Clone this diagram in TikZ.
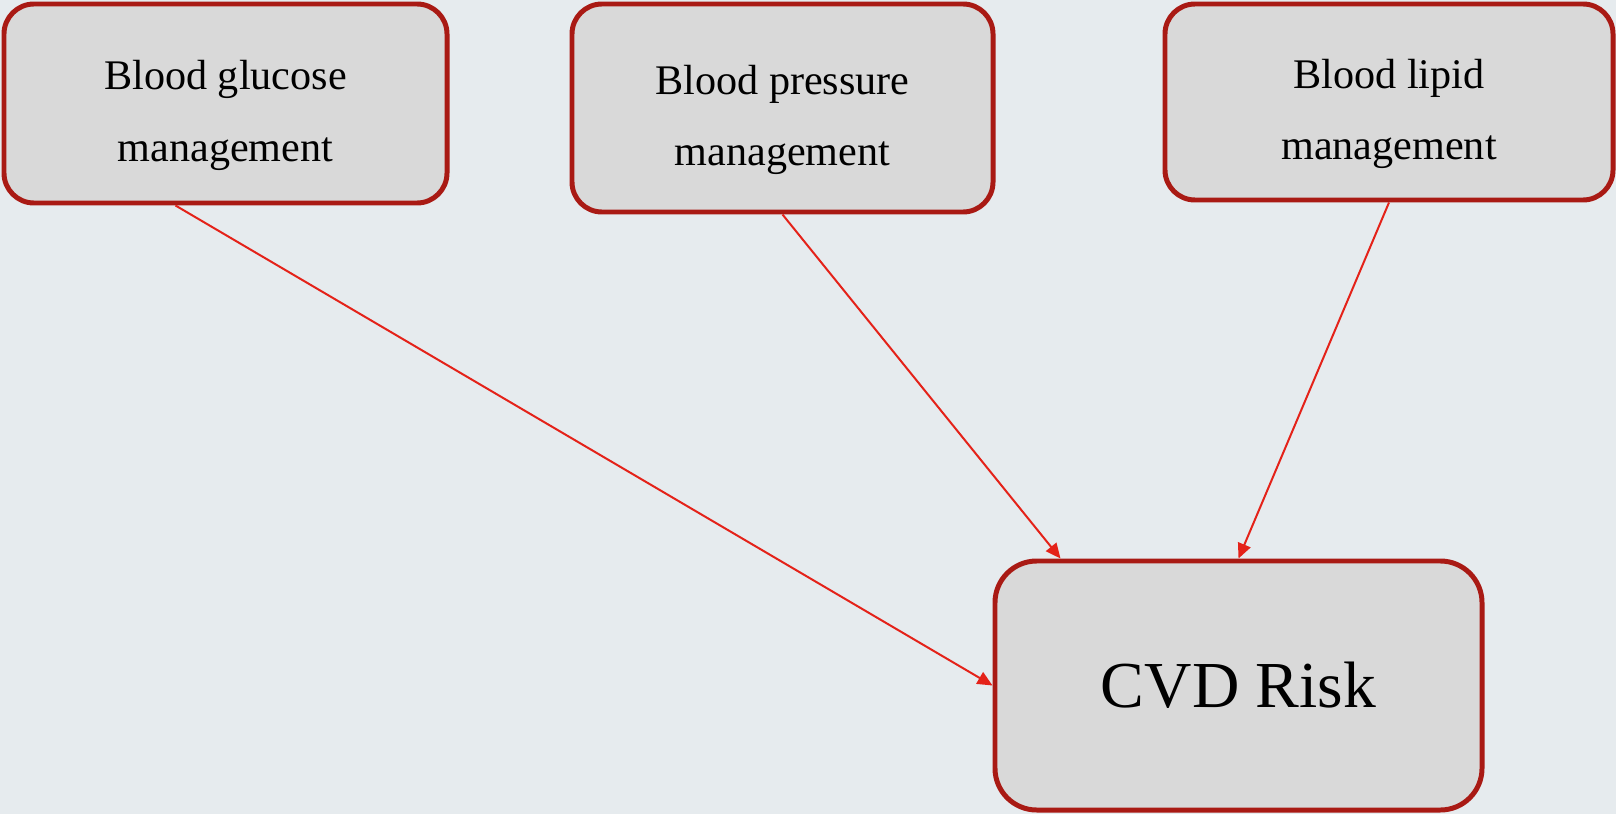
\documentclass[tikz,border=0pt]{standalone}
\usepackage{fontspec}
\setmainfont{Liberation Serif}
\usetikzlibrary{arrows.meta,calc}
\definecolor{bgcol}{HTML}{E6EBEE}
\definecolor{boxfill}{HTML}{D9D9D9}
\definecolor{boxline}{HTML}{A91A14}
\definecolor{linkred}{HTML}{E42219}
\begin{document}
\begin{tikzpicture}[x=0.03cm, y=-0.03cm,
    card/.style={draw=boxline, fill=boxfill, line width=4.25pt, align=center, inner sep=0pt},
    mgmt/.style={card, rounded corners=0.9cm, text height=106pt, font=\fontsize{36}{61}\selectfont},
    riskbox/.style={card, rounded corners=1.25cm, font=\fontsize{56}{60}\selectfont},
    link/.style={draw=linkred, line width=1.7pt, -{Triangle[length=0.45cm, width=0.4cm]}}]
  \fill[bgcol] (0,0) rectangle (1616,814);
  \useasboundingbox (0,0) rectangle (1616,814);
  \node[mgmt, minimum width=13.29cm, minimum height=5.97cm] (gluc) at (225.5,103.5) {Blood glucose\\management};
  \node[mgmt, minimum width=12.63cm, minimum height=6.24cm] (press) at (782.5,108) {Blood pressure\\management};
  \node[mgmt, minimum width=13.44cm, minimum height=5.88cm] (lipid) at (1389,102) {Blood lipid\\management};
  \node[riskbox, minimum width=14.61cm, minimum height=7.47cm] (cvd) at (1238.5,685.5) {CVD Risk};
  \draw[link] ($(gluc.south)+(-50,0)$) -- (cvd.west);
  \draw[link] (press.south) -- ($(cvd.north)+(-178,0)$);
  \draw[link] (lipid.south) -- (cvd.north);
\end{tikzpicture}
\end{document}
